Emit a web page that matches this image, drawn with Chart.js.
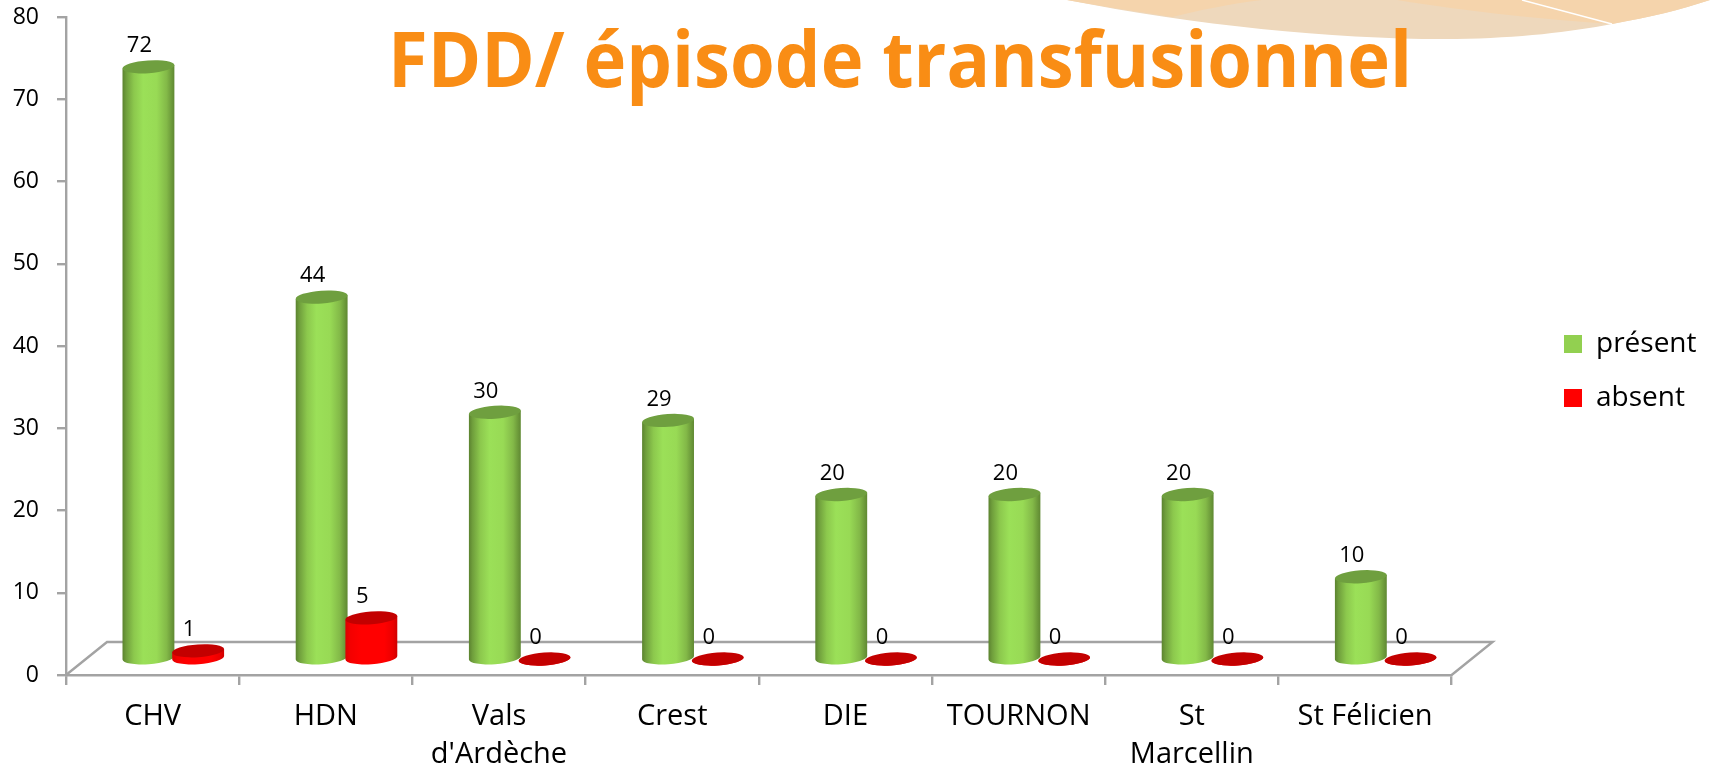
<!DOCTYPE html>
<html lang="fr">
<head>
<meta charset="utf-8">
<title>FDD/ épisode transfusionnel</title>
<style>
html,body{margin:0;padding:0;background:#fff;overflow:hidden}
#wrap{position:relative;width:1716px;height:768px}
canvas{display:block}
</style>
<script src="https://cdn.jsdelivr.net/npm/chart.js@4/dist/chart.umd.js"></script>
</head>
<body>
<div id="wrap"><canvas id="c" width="1716" height="768"></canvas></div>
<script>
const chartTitle = "FDD/ épisode transfusionnel";
const categories = ["CHV", "HDN", ["Vals", "d'Ardèche"], "Crest", "DIE", "TOURNON", ["St", "Marcellin"], "St Félicien"];
const present = [72, 44, 30, 29, 20, 20, 20, 10];
const absent = [1, 5, 0, 0, 0, 0, 0, 0];
const yTicks = [0, 10, 20, 30, 40, 50, 60, 70, 80];

const FONT = "'Open Sans', sans-serif";
const GREY = "#a3a3a3";
const DEPTH_X = 41, DEPTH_Y = 33;      // floor depth
const SHIFT_X = 20.7, SHIFT_Y = -16;   // bars stand in the middle of the floor
const TILT = -4 * Math.PI / 180, RY = 6.4;

const greenStops = [[0,"#5b822f"],[.07,"#6f9e3c"],[.22,"#8cc84d"],[.4,"#9be058"],[.66,"#98da55"],[.85,"#83b948"],[1,"#5f8832"]];
const redStops = [[0,"#dc0000"],[.1,"#f40000"],[.3,"#ff0000"],[.75,"#ff0000"],[.92,"#ea0000"],[1,"#cf0000"]];

const decor = {
  id: "decor",
  beforeDraw(chart) {
    const c = chart.ctx;
    c.save();
    c.fillStyle = "#eed8bc";
    c.beginPath();
    c.moveTo(1067, 0);
    c.bezierCurveTo(1200, 26, 1340, 40, 1456, 39);
    c.bezierCurveTo(1520, 38, 1570, 32, 1612, 24);
    c.bezierCurveTo(1650, 17, 1680, 10, 1710, 0);
    c.closePath();
    c.fill();
    c.fillStyle = "#f5d4ac";
    c.beginPath();
    c.moveTo(1067, 0);
    c.bezierCurveTo(1100, 6, 1140, 12, 1172, 17);
    c.bezierCurveTo(1200, 10, 1230, 4, 1262, 0);
    c.closePath();
    c.fill();
    c.beginPath();
    c.moveTo(1397, 0);
    c.bezierCurveTo(1470, 12, 1550, 20, 1612, 24);
    c.bezierCurveTo(1650, 17, 1680, 10, 1710, 0);
    c.closePath();
    c.fill();
    c.strokeStyle = "#ffffff";
    c.lineWidth = 1.4;
    c.beginPath();
    c.moveTo(1522, 0);
    c.lineTo(1612, 24);
    c.stroke();
    c.restore();
  },
  afterLayout(chart) {
    const l = chart.legend;
    l.left = 1538; l.right = 1716; l.top = 304; l.bottom = 470;
  },
  beforeDatasetsDraw(chart) {
    const c = chart.ctx, xs = chart.scales.x, ys = chart.scales.y;
    const y0 = ys.getPixelForValue(0), L = xs.left, R = xs.right;
    // 3-D floor outline
    c.save();
    c.strokeStyle = GREY;
    c.lineWidth = 2.4;
    c.beginPath();
    c.moveTo(L, y0);
    c.lineTo(L + DEPTH_X, y0 - DEPTH_Y);
    c.lineTo(R + DEPTH_X, y0 - DEPTH_Y);
    c.lineTo(R, y0);
    c.stroke();
    c.restore();

    // cylinders, read from the library's bar elements
    const sets = [[chart.getDatasetMeta(0), greenStops, "#6f9f3f"], [chart.getDatasetMeta(1), redStops, "#c30000"]];
    categories.forEach((_, i) => {
      sets.forEach(([meta, stops, capColor]) => {
        const el = meta.data[i];
        const cx = el.x + SHIFT_X, rx = el.width / 2;
        const top = el.y + SHIFT_Y, base = el.base + SHIFT_Y;
        const dx = rx * Math.cos(TILT), dy = rx * Math.sin(TILT);
        const grad = c.createLinearGradient(cx - rx, 0, cx + rx, 0);
        stops.forEach(s => grad.addColorStop(s[0], s[1]));
        c.save();
        c.fillStyle = grad;
        c.beginPath();
        c.moveTo(cx - dx, top - dy);
        c.lineTo(cx - dx, base - dy);
        c.ellipse(cx, base, rx, RY, TILT, Math.PI, 0, true);
        c.lineTo(cx + dx, top + dy);
        c.closePath();
        c.fill();
        c.fillStyle = capColor;
        c.beginPath();
        c.ellipse(cx, top, rx, RY, TILT, 0, Math.PI * 2);
        c.fill();
        c.restore();
      });
    });

    // value labels
    c.save();
    c.fillStyle = "#000";
    c.textAlign = "center";
    c.textBaseline = "middle";
    c.font = "22px " + FONT;
    chart.data.datasets.forEach((ds, d) => {
      chart.getDatasetMeta(d).data.forEach((el, i) => {
        c.fillText(String(ds.data[i]), el.x + SHIFT_X - 9, el.y + SHIFT_Y - 21);
      });
    });
    c.restore();
    return false;
  },
  afterDraw(chart) {
    const c = chart.ctx;
    c.save();
    c.fillStyle = "#f98d15";
    c.textAlign = "center";
    c.textBaseline = "alphabetic";
    c.font = "bold 77px " + FONT;
    c.fillText(chartTitle, 900, 87, 1024);
    c.restore();
  }
};

new Chart(document.getElementById("c"), {
  type: "bar",
  data: {
    labels: categories,
    datasets: [
      { label: "présent", data: present, backgroundColor: "#92d050" },
      { label: "absent", data: absent, backgroundColor: "#ff0000" }
    ]
  },
  options: {
    responsive: false,
    animation: false,
    events: [],
    layout: { padding: { left: 0, top: 17, right: 0, bottom: 0 } },
    datasets: { bar: { categoryPercentage: 0.574, barPercentage: 1.046 } },
    plugins: {
      title: { display: false },
      tooltip: { enabled: false },
      legend: {
        position: "right",
        align: "start",
        labels: {
          boxWidth: 18, boxHeight: 18, padding: 26,
          color: "#000",
          font: { family: FONT, size: 28 }
        }
      }
    },
    scales: {
      x: {
        afterFit(s) { s.height = 93; },
        grid: { drawOnChartArea: false, color: GREY, lineWidth: 2.4, tickLength: 10, offset: true },
        border: { color: GREY, width: 2.4 },
        ticks: {
          color: "#000", padding: 13, maxRotation: 0, autoSkip: false,
          font: { family: FONT, size: 29, lineHeight: 1.31 }
        }
      },
      y: {
        min: 0, max: 80,
        afterFit(s) { s.width = 66; s.paddingTop = 0; s.paddingBottom = 0; },
        afterBuildTicks(s) { s.ticks = yTicks.map(v => ({ value: v })); },
        grid: { drawOnChartArea: false, color: GREY, lineWidth: 2.4, tickLength: 9 },
        border: { color: GREY, width: 2.4 },
        ticks: { color: "#000", padding: 18, font: { family: FONT, size: 23 } }
      }
    }
  },
  plugins: [{
    id: "legendWidth",
    beforeLayout(chart) {
      const l = chart.legend;
      if (!l._w) {
        const f = l.fit;
        l.fit = function () { f.call(this); this.width = 264.4; };
        l._w = true;
      }
    }
  }, decor]
});
</script>
</body>
</html>
